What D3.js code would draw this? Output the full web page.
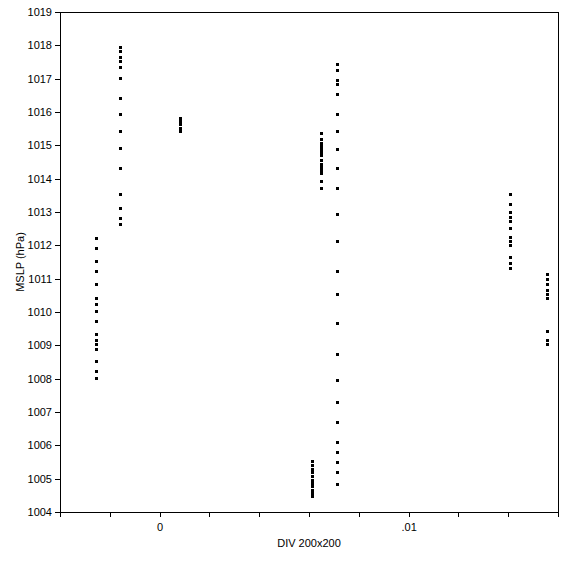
<!DOCTYPE html>
<html>
<head>
<meta charset="utf-8">
<style>
  body { margin: 0; background: #fff; }
  svg { display: block; font-family: "Liberation Sans", Arial, sans-serif; }
</style>
</head>
<body>
<script src="https://d3js.org/d3.v7.min.js"></script>
<script>
    const width = 572;
    const height = 563;
    const margin = { top: 12, right: 14, bottom: 51, left: 60 };

    // x position (DIV 200x200) of each column of points
    const divValues = [-0.00257, -0.00161, 0.0008, 0.0065, 0.00614, 0.00711, 0.01406, 0.01555];

    // MSLP values (hPa) for each column, same order as divValues
    const mslpCol1 = [1012.22, 1011.92, 1011.53, 1011.23, 1010.84, 1010.42, 1010.24, 1010.03, 1009.73,
        1009.34, 1009.16, 1009.04, 1008.89, 1008.53, 1008.23, 1008.02];
    const mslpCol2 = [1017.95, 1017.83, 1017.65, 1017.53, 1017.35, 1017.02, 1016.42, 1015.94, 1015.43,
        1014.92, 1014.32, 1013.54, 1013.12, 1012.82, 1012.64];
    const mslpCol3 = [1015.82, 1015.73, 1015.64, 1015.52, 1015.43];
    const mslpCol4 = [1015.37, 1015.19, 1015.07, 1014.98, 1014.89, 1014.80, 1014.71, 1014.56, 1014.44,
        1014.35, 1014.26, 1014.17, 1013.93, 1013.72];
    const mslpCol5 = [1005.53, 1005.41, 1005.29, 1005.20, 1005.08, 1004.96, 1004.87, 1004.78, 1004.66,
        1004.57, 1004.48];
    const mslpCol6 = [1017.44, 1017.26, 1016.96, 1016.84, 1016.54, 1015.94, 1015.43, 1014.89, 1014.32,
        1013.72, 1012.94, 1012.13, 1011.23, 1010.54, 1009.67, 1008.74, 1007.96, 1007.30, 1006.70,
        1006.10, 1005.80, 1005.50, 1005.20, 1004.84];
    const mslpCol7 = [1013.54, 1013.24, 1013.00, 1012.85, 1012.73, 1012.52, 1012.25, 1012.13, 1012.01,
        1011.65, 1011.47, 1011.32];
    const mslpCol8 = [1011.14, 1010.99, 1010.84, 1010.66, 1010.54, 1010.42, 1009.43, 1009.16, 1009.04];
    const mslpColumns = [mslpCol1, mslpCol2, mslpCol3, mslpCol4, mslpCol5, mslpCol6, mslpCol7, mslpCol8];

    // axis ticks
    const xTickValues = [-0.004, -0.002, 0, 0.002, 0.004, 0.006, 0.008, 0.01, 0.012, 0.014, 0.016];
    const xTickLabels = ["", "", "0", "", "", "", "", ".01", "", "", ""];
    const yTickValues = [1004, 1005, 1006, 1007, 1008, 1009, 1010, 1011, 1012, 1013, 1014, 1015, 1016, 1017, 1018, 1019];

    const points = [];
    divValues.forEach(function (x, i) {
        mslpColumns[i].forEach(function (y) { points.push({ div: x, mslp: y }); });
    });

    const x = d3.scaleLinear()
        .domain([-0.004, 0.016])
        .range([margin.left, width - margin.right]);
    const y = d3.scaleLinear()
        .domain([1004, 1019])
        .range([height - margin.bottom, margin.top]);

    const svg = d3.select("body")
        .append("svg")
        .attr("width", width)
        .attr("height", height);

    // frame (top and right sides)
    svg.append("rect")
        .attr("x", margin.left)
        .attr("y", margin.top)
        .attr("width", width - margin.left - margin.right)
        .attr("height", height - margin.top - margin.bottom)
        .attr("fill", "none")
        .attr("stroke", "#000")
        .attr("shape-rendering", "crispEdges");

    const xAxis = svg.append("g")
        .attr("transform", "translate(0," + (height - margin.bottom) + ")")
        .call(d3.axisBottom(x)
            .tickValues(xTickValues)
            .tickFormat(function (d, i) { return xTickLabels[i]; })
            .tickSizeOuter(0)
            .tickSize(5)
            .tickPadding(6));

    const yAxis = svg.append("g")
        .attr("transform", "translate(" + margin.left + ",0)")
        .call(d3.axisLeft(y)
            .tickValues(yTickValues)
            .tickFormat(d3.format("d"))
            .tickSizeOuter(0)
            .tickSize(5)
            .tickPadding(3));

    svg.selectAll(".domain, .tick line")
        .attr("stroke", "#000")
        .attr("shape-rendering", "crispEdges");
    svg.selectAll(".tick text")
        .attr("fill", "#000")
        .style("font-size", "11px")
        .style("font-family", "'Liberation Sans', Arial, sans-serif");

    svg.append("text")
        .attr("x", (margin.left + width - margin.right) / 2)
        .attr("y", 547)
        .attr("text-anchor", "middle")
        .style("font-size", "11px")
        .text("DIV 200x200");

    svg.append("text")
        .attr("transform", "translate(24," + ((margin.top + height - margin.bottom) / 2) + ") rotate(-90)")
        .attr("text-anchor", "middle")
        .style("font-size", "11px")
        .text("MSLP (hPa)");

    svg.append("g")
        .selectAll("rect")
        .data(points)
        .enter()
        .append("rect")
        .attr("x", function (d) { return Math.round(x(d.div)) - 1.5; })
        .attr("y", function (d) { return Math.round(y(d.mslp)) - 1.5; })
        .attr("width", 3)
        .attr("height", 3)
        .attr("fill", "#000")
        .attr("shape-rendering", "crispEdges");
</script>
</body>
</html>
